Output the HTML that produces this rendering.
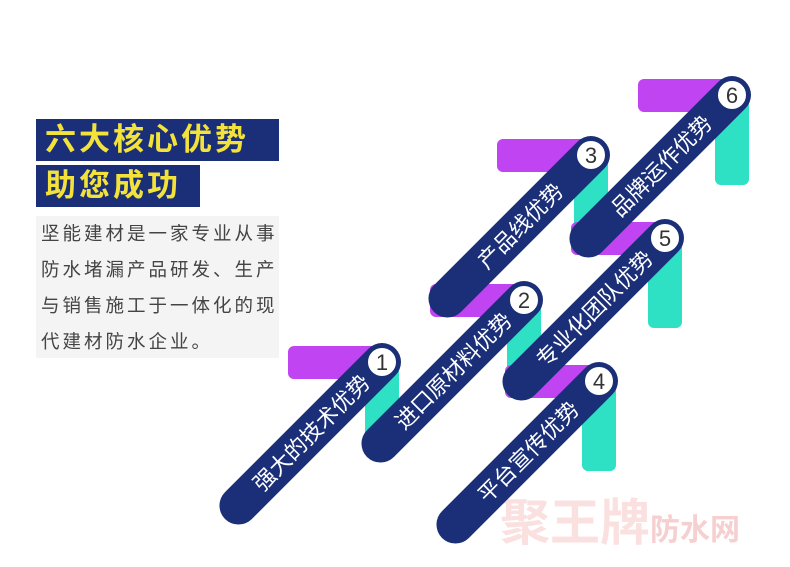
<!DOCTYPE html>
<html><head><meta charset="utf-8"><style>
body{margin:0;width:790px;height:567px;background:#fff;position:relative;overflow:hidden;font-family:"Liberation Sans","Noto Sans CJK SC",sans-serif}
.t{position:absolute;left:36px;background:#1a2f78;color:#f3e23a;font-weight:bold;font-size:31px;line-height:42px;padding-left:9px;letter-spacing:3px}
.g{position:absolute;left:36px;top:216px;width:243px;height:142px;background:#f4f4f4;color:#444;font-size:18.5px;line-height:36px;padding:0 0 0 5px;box-sizing:border-box;letter-spacing:3px;word-break:break-all}
svg{position:absolute;left:0;top:0}
</style></head><body>
<div class="t" style="top:119px;width:234px">六大核心优势</div>
<div class="t" style="top:165px;width:155px">助您成功</div>
<div class="g">坚能建材是一家专业从事防水堵漏产品研发、生产与销售施工于一体化的现代建材防水企业。</div>
<svg width="790" height="567" font-family="Liberation Sans, Noto Sans CJK SC, sans-serif">
<defs>
<g id="base"><rect x="-94" y="-16" width="100" height="33" rx="6" fill="#c044f2"/><rect x="-17" y="0" width="34" height="90" rx="6" fill="#2ee0c4"/></g>
</defs>
<text x="620" y="540" font-size="50" font-weight="bold" fill="#fbe0e0" text-anchor="middle">聚王牌<tspan font-size="30" fill="#f6d0d0">防水网</tspan></text>
<g transform="translate(382,362)"><use href="#base"/><g transform="rotate(-45)"><rect x="-222" y="-19" width="241" height="38" rx="19" fill="#1a2f78"/><circle r="15" fill="#fff" stroke="#1a2f78" stroke-width="2"/><text x="-100" y="8" font-size="22" fill="#fff" text-anchor="middle">强大的技术优势</text></g><text y="8" font-size="22" text-anchor="middle" fill="#333">1</text></g>
<g transform="translate(524,300)"><use href="#base"/><g transform="rotate(-45)"><rect x="-222" y="-19" width="241" height="38" rx="19" fill="#1a2f78"/><circle r="15" fill="#fff" stroke="#1a2f78" stroke-width="2"/><text x="-100" y="8" font-size="22" fill="#fff" text-anchor="middle">进口原材料优势</text></g><text y="8" font-size="22" text-anchor="middle" fill="#333">2</text></g>
<g transform="translate(591,155)"><use href="#base"/><g transform="rotate(-45)"><rect x="-222" y="-19" width="241" height="38" rx="19" fill="#1a2f78"/><circle r="15" fill="#fff" stroke="#1a2f78" stroke-width="2"/><text x="-100" y="8" font-size="22" fill="#fff" text-anchor="middle">产品线优势</text></g><text y="8" font-size="22" text-anchor="middle" fill="#333">3</text></g>
<g transform="translate(599,381)"><use href="#base"/><g transform="rotate(-45)"><rect x="-222" y="-19" width="241" height="38" rx="19" fill="#1a2f78"/><circle r="15" fill="#fff" stroke="#1a2f78" stroke-width="2"/><text x="-100" y="8" font-size="22" fill="#fff" text-anchor="middle">平台宣传优势</text></g><text y="8" font-size="22" text-anchor="middle" fill="#333">4</text></g>
<g transform="translate(665,238)"><use href="#base"/><g transform="rotate(-45)"><rect x="-222" y="-19" width="241" height="38" rx="19" fill="#1a2f78"/><circle r="15" fill="#fff" stroke="#1a2f78" stroke-width="2"/><text x="-100" y="8" font-size="22" fill="#fff" text-anchor="middle">专业化团队优势</text></g><text y="8" font-size="22" text-anchor="middle" fill="#333">5</text></g>
<g transform="translate(732,95)"><use href="#base"/><g transform="rotate(-45)"><rect x="-222" y="-19" width="241" height="38" rx="19" fill="#1a2f78"/><circle r="15" fill="#fff" stroke="#1a2f78" stroke-width="2"/><text x="-100" y="8" font-size="22" fill="#fff" text-anchor="middle">品牌运作优势</text></g><text y="8" font-size="22" text-anchor="middle" fill="#333">6</text></g>
</svg>
</body></html>
